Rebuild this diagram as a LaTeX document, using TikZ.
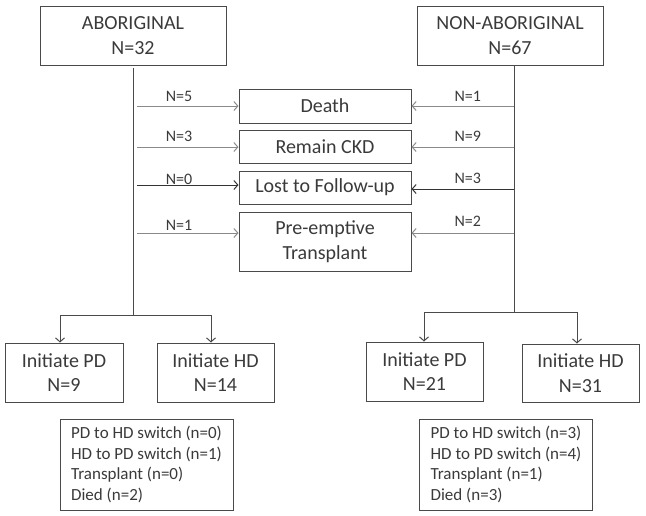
\documentclass[tikz,border=0pt]{standalone}
\usepackage{fontspec}
\setmainfont{Carlito}
\usetikzlibrary{arrows.meta}
\definecolor{txt}{HTML}{3A3A3A}
\definecolor{brd}{HTML}{4A4A4A}
\definecolor{arrg}{HTML}{8A8A8A}
\tikzset{
  box/.style={draw=brd, line width=1pt, text=txt, align=center, inner sep=0pt,
    font=\fontsize{20}{24.5}\selectfont},
  listbox/.style={draw=brd, line width=1pt, text=txt, align=left, inner sep=0pt,
    minimum width=173pt, minimum height=91pt,
    font=\fontsize{17}{20.5}\selectfont},
  lbl/.style={text=txt, inner sep=0pt, font=\fontsize{16}{18}\selectfont},
  trunk/.style={draw=brd, line width=1pt},
  arr/.style={draw=arrg, line width=1pt, -{Straight Barb[length=4pt,width=9pt]}},
  darr/.style={draw=black!80, line width=1pt, -{Straight Barb[length=4pt,width=9pt]}},
}
\begin{document}
\begin{tikzpicture}[x=1pt,y=-1pt]
\useasboundingbox (0,0) rectangle (646,515);
% top boxes
\node[box, minimum width=186pt, minimum height=59pt] (ab) at (133,35.5) {ABORIGINAL\\N=32};
\node[box, minimum width=186pt, minimum height=59pt] (nab) at (510,35.5) {NON-ABORIGINAL\\N=67};
% middle boxes
\node[box, minimum width=172pt, minimum height=34pt] (death) at (325,106) {Death};
\node[box, minimum width=172pt, minimum height=33pt] (ckd) at (325,146.5) {Remain CKD};
\node[box, minimum width=172pt, minimum height=33pt] (lost) at (325,187.5) {Lost to Follow-up};
\node[box, minimum width=172pt, minimum height=59pt] (pre) at (325,241.5) {Pre-emptive\\Transplant};
% bottom boxes
\node[box, minimum width=118pt, minimum height=59pt] (apd) at (64,372.5) {Initiate PD\\N=9};
\node[box, minimum width=117pt, minimum height=59pt] (ahd) at (215.5,372.5) {Initiate HD\\N=14};
\node[box, minimum width=117pt, minimum height=59pt] (npd) at (424.5,371.5) {Initiate PD\\N=21};
\node[box, minimum width=117pt, minimum height=58pt] (nhd) at (580.5,373) {Initiate HD\\N=31};
% list boxes
\node[listbox] (alist) at (146.5,464.5) {PD to HD switch (n=0)\\HD to PD switch (n=1)\\Transplant (n=0)\\Died (n=2)};
\node[listbox] (nlist) at (506,464.5) {PD to HD switch (n=3)\\HD to PD switch (n=4)\\Transplant (n=1)\\Died (n=3)};
% trunks
\coordinate (aj) at (133,315);
\coordinate (nj) at (514,312);
\draw[trunk] (133,68) -- (aj);
\draw[trunk] (514,65) -- (nj);
\draw[trunk] (60,315) -- (211,315);
\draw[trunk] (424,312) -- (577,312);
% branch coordinates
\coordinate (a1) at (137,106); \coordinate (a2) at (137,147);
\coordinate (a3) at (137,185); \coordinate (a4) at (137,233);
\coordinate (n1) at (514,106); \coordinate (n2) at (514,147);
\coordinate (n3) at (514,189); \coordinate (n4) at (514,233);
\draw[arr] (a1) -- (a1 -| death.west);
\draw[arr] (a2) -- (a2 -| ckd.west);
\draw[darr] (a3) -- (a3 -| lost.west);
\draw[arr] (a4) -- (a4 -| pre.west);
\draw[arr] (n1) -- (n1 -| death.east);
\draw[arr] (n2) -- (n2 -| ckd.east);
\draw[darr] (n3) -- (n3 -| lost.east);
\draw[arr] (n4) -- (n4 -| pre.east);
% labels
\node[lbl] (la1) at (179,96.7) {N=5};
\node[lbl] (la2) at (179,136.7) {N=3};
\node[lbl] (la3) at (179,179) {N=0};
\node[lbl] (la4) at (179,225.7) {N=1};
\node[lbl] (ln1) at (467.7,96.7) {N=1};
\node[lbl] (ln2) at (467.7,136.7) {N=9};
\node[lbl] (ln3) at (467.7,178.3) {N=3};
\node[lbl] (ln4) at (467.7,221.7) {N=2};
% down arrows
\coordinate (ad1) at (60,315); \coordinate (ad2) at (211,315);
\coordinate (nd1) at (424,312); \coordinate (nd2) at (577,312);
\draw[arr, draw=brd] (ad1) -- (ad1 |- apd.north);
\draw[arr, draw=brd] (ad2) -- (ad2 |- ahd.north);
\draw[arr, draw=brd] (nd1) -- (nd1 |- npd.north);
\draw[arr, draw=brd] (nd2) -- (nd2 |- nhd.north);
\end{tikzpicture}
\end{document}
